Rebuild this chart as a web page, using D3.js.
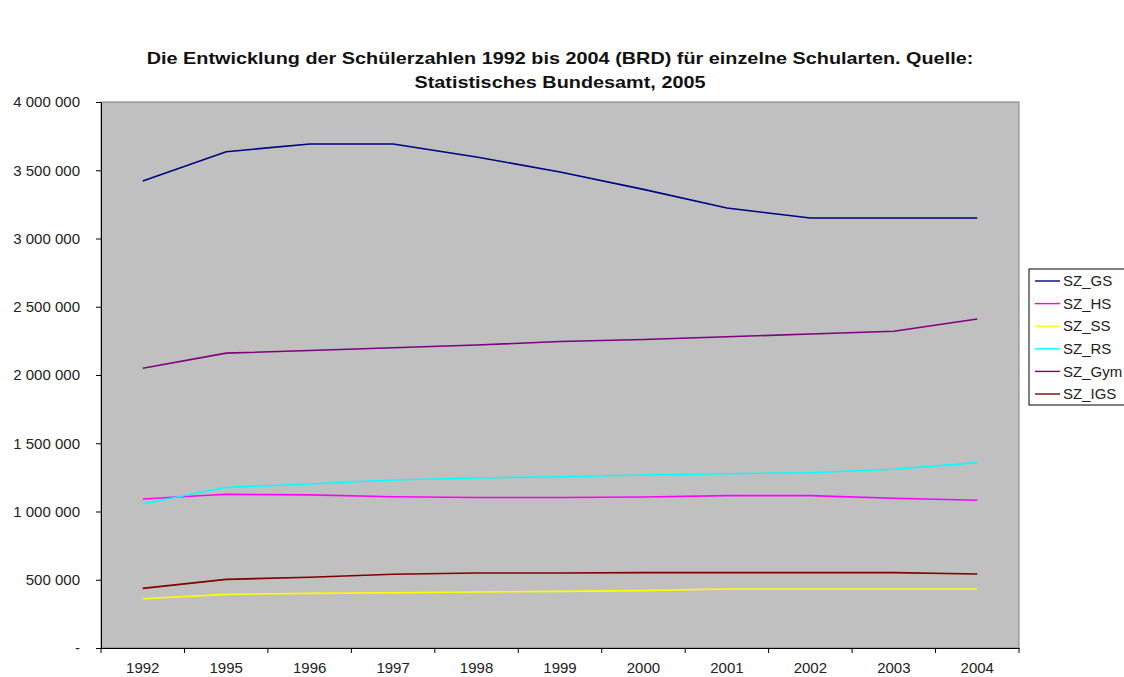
<!DOCTYPE html>
<html>
<head>
<meta charset="utf-8">
<script src="https://cdn.jsdelivr.net/npm/d3@7"></script>
<style>
  body { margin: 0; background: #fff; }
  svg { display: block; font-family: "Liberation Sans", Arial, sans-serif; }
</style>
</head>
<body>
<svg width="1124" height="677"></svg>
<script>
var years = ['1992', '1995', '1996', '1997', '1998', '1999', '2000', '2001', '2002', '2003', '2004'];

var sz_gs = [3421000, 3636000, 3692000, 3692000, 3597000, 3487000, 3360000, 3223000, 3150000, 3150000, 3150000];
var sz_hs = [1092000, 1126000, 1122000, 1108000, 1103000, 1103000, 1106000, 1116000, 1116000, 1097000, 1082000];
var sz_ss = [361000, 393000, 400000, 405000, 410000, 415000, 420000, 432000, 432000, 432000, 432000];
var sz_rs = [1055000, 1177000, 1201000, 1231000, 1245000, 1255000, 1267000, 1277000, 1284000, 1309000, 1358000];
var sz_gym = [2050000, 2160000, 2180000, 2200000, 2220000, 2245000, 2260000, 2280000, 2300000, 2320000, 2410000];
var sz_igs = [437000, 503000, 518000, 540000, 550000, 550000, 552000, 552000, 552000, 552000, 542000];

var seriesNames = ['SZ_GS', 'SZ_HS', 'SZ_SS', 'SZ_RS', 'SZ_Gym', 'SZ_IGS'];
var seriesColors = ['#000080', '#ff00ff', '#ffff00', '#00ffff', '#800080', '#800000'];
var yTicks = [0, 500000, 1000000, 1500000, 2000000, 2500000, 3000000, 3500000, 4000000];

var titleLines = [
  'Die Entwicklung der Schülerzahlen 1992 bis 2004 (BRD) für einzelne Schularten. Quelle:',
  'Statistisches Bundesamt, 2005'
];

var series = [sz_gs, sz_hs, sz_ss, sz_rs, sz_gym, sz_igs].map(function(vals, i) {
  return { name: seriesNames[i], color: seriesColors[i], values: vals };
});

var svg = d3.select('svg');
// plot area box
var pLeft = 101, pRight = 1019, pTop = 102, pBottom = 648;

var x = d3.scaleBand().domain(years).range([pLeft, pRight]).padding(0);
var y = d3.scaleLinear().domain([0, 4000000]).range([pBottom, pTop]);

var de = d3.formatLocale({ decimal: ',', thousands: '\u00a0', grouping: [3], currency: ['', ''] });
var fmt = de.format(',d');

// title (the reference font is a bit stretched horizontally)
svg.append('g')
  .attr('transform', 'translate(560,0) scale(1.24,1)')
  .selectAll('text')
  .data(titleLines)
  .enter()
  .append('text')
  .attr('x', 0)
  .attr('y', function(d, i) { return 64 + i * 24; })
  .attr('text-anchor', 'middle')
  .style('font-size', '16px')
  .style('font-weight', 'bold')
  .style('fill', '#111')
  .text(function(d) { return d; });

// plot area
svg.append('rect')
  .attr('x', pLeft)
  .attr('y', pTop)
  .attr('width', pRight - pLeft)
  .attr('height', pBottom - pTop)
  .style('fill', '#c0c0c0')
  .style('stroke', '#808080')
  .style('stroke-width', 1);

// y axis
var yAxis = d3.axisLeft(y)
  .tickValues(yTicks)
  .tickSize(5)
  .tickSizeOuter(0)
  .tickPadding(16)
  .tickFormat(function(d) { return d === 0 ? '-' : fmt(d); });

var gy = svg.append('g').attr('transform', 'translate(' + pLeft + ',0)').call(yAxis);
gy.select('.domain').style('stroke', '#000');
gy.selectAll('line').style('stroke', '#000');
gy.selectAll('text').style('font-size', '15px').style('fill', '#222').style('font-family', '"Liberation Sans", Arial, sans-serif');

// x axis (labels centered, ticks between categories)
var xAxis = d3.axisBottom(x).tickSize(0).tickSizeOuter(0).tickPadding(14);
var gx = svg.append('g').attr('transform', 'translate(0,' + pBottom + ')').call(xAxis);
gx.select('.domain').style('stroke', '#000');
gx.selectAll('text').style('font-size', '15px').style('fill', '#222').style('font-family', '"Liberation Sans", Arial, sans-serif');

gx.selectAll('.sep')
  .data(years.concat(['end']))
  .enter()
  .append('line')
  .attr('class', 'sep')
  .attr('x1', function(d) { return d === 'end' ? pRight : x(d); })
  .attr('x2', function(d) { return d === 'end' ? pRight : x(d); })
  .attr('y1', 0)
  .attr('y2', 5)
  .style('stroke', '#000');

// lines
var line = d3.line()
  .x(function(d, i) { return x(years[i]) + x.bandwidth() / 2; })
  .y(function(d) { return y(d); });

svg.append('g')
  .selectAll('path')
  .data(series)
  .enter()
  .append('path')
  .attr('d', function(d) { return line(d.values); })
  .style('fill', 'none')
  .style('stroke', function(d) { return d.color; })
  .style('stroke-width', 1.6);

// legend
var lg = svg.append('g').attr('transform', 'translate(1029,269)');
lg.append('rect')
  .attr('x', 0)
  .attr('y', 0)
  .attr('width', 110)
  .attr('height', 136)
  .style('fill', '#fff')
  .style('stroke', '#000');

var item = lg.selectAll('.item')
  .data(series)
  .enter()
  .append('g')
  .attr('class', 'item')
  .attr('transform', function(d, i) { return 'translate(0,' + (12 + i * 22.6) + ')'; });

item.append('line')
  .attr('x1', 6)
  .attr('x2', 31)
  .style('stroke', function(d) { return d.color; })
  .style('stroke-width', 1.4);

item.append('text')
  .attr('x', 34)
  .attr('dy', '0.35em')
  .style('font-size', '15px')
  .style('fill', '#222')
  .text(function(d) { return d.name; });
</script>
</body>
</html>
